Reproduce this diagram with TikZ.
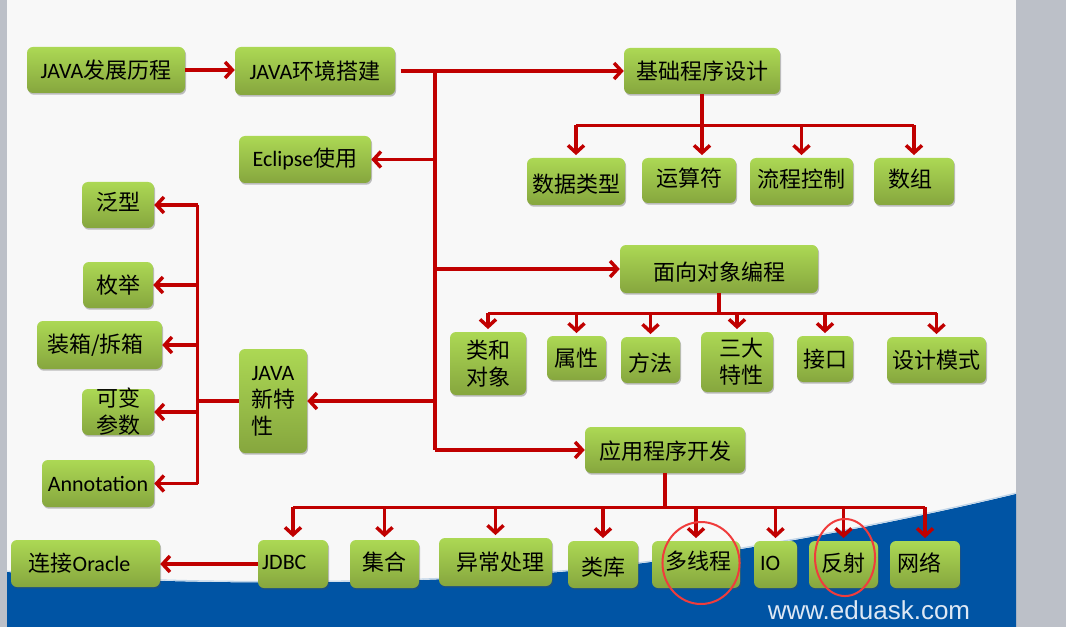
\documentclass[tikz,border=0pt]{standalone}
\usepackage{fontspec}
\setmainfont{Noto Sans CJK SC}
\newfontfamily\cjk{Noto Sans CJK SC}
\newfontfamily\lat{Carlito}
\newfontfamily\urlfont{Liberation Sans}
\usetikzlibrary{arrows.meta,shadows}
\definecolor{lnred}{RGB}{192,0,0}
\definecolor{bxtop}{RGB}{172,216,84}
\definecolor{bxbot}{RGB}{134,166,62}
\definecolor{slide}{RGB}{248,248,248}
\definecolor{strip}{RGB}{188,192,200}
\definecolor{wave}{RGB}{0,84,164}
\definecolor{circ}{RGB}{240,60,60}
\definecolor{urlc}{RGB}{222,232,244}
\tikzset{
  box/.style={rounded corners=4.5pt, top color=bxtop, bottom color=bxbot, draw=none, inner sep=0pt,
    drop shadow={shadow xshift=0.8pt, shadow yshift=-1.3pt, opacity=0.35, fill=black!70}},
  txt/.style={font=\cjk\fontsize{16.5}{20.25}\selectfont, text=black, inner sep=0pt, align=center},
  ln/.style={draw=lnred, line width=2.6pt},
  stub/.style={draw=lnred, line width=3.4pt},
  arr/.style={ln, -{Straight Barb[length=5.5pt,width=12pt]}},
  ring/.style={draw=circ, line width=1.5pt},
}
\newcommand\bx[7][]{%
  \node[box, minimum width={(#5-#3)*0.75pt}, minimum height={(#6-#4)*0.75pt}] (#2) at ({(#3+#5)/2},{(#4+#6)/2}) {};
  \node[txt,#1] (#2t) at (#2) {#7};
}
\begin{document}
\begin{tikzpicture}[x=0.75pt,y=-0.75pt]
\useasboundingbox (0,0) rectangle (1066,627);
\clip (0,0) rectangle (1066,627);
% background
\fill[strip] (0,0) rectangle (1066,627);
\fill[slide] (7,0) rectangle (1016,627);
\fill[wave] (7,572) .. controls (150,586) and (400,586) .. (560,572)
  .. controls (720,558) and (900,522) .. (1016,494) -- (1016,627) -- (7,627) -- cycle;
\draw[white!75!wave, line width=0.8pt] (7,571) .. controls (150,585) and (400,585) .. (560,571)
  .. controls (720,557) and (900,521) .. (1016,493);
\node[font=\urlfont\fontsize{19.5}{20}\selectfont, text=urlc, anchor=base, inner sep=0pt] (url) at (869,619) {www.eduask.com};

% top row
\bx{hist}{27}{47}{185}{93}{{\lat JAVA}发展历程}
\bx{env}{235}{47}{395}{95}{{\lat JAVA}环境搭建}
\bx{basic}{624}{48}{780}{94}{基础程序设计}
\bx{ecl}{239}{136}{371}{183}{{\lat Eclipse}使用}

% basic children
\bx[yshift=-2pt]{dtype}{527}{158}{625}{205}{数据类型}
\bx[yshift=2pt]{oper}{642}{158}{736}{203}{运算符}
\bx[yshift=2pt]{flow}{750}{158}{853}{205}{流程控制}
\bx[xshift=-3pt,yshift=2pt]{arry}{874}{158}{954}{205}{数组}

% OOP
\bx[yshift=-2pt]{oop}{620}{245}{818}{293}{面向对象编程}
\bx{clsobj}{450}{332}{526}{395}{类和\\对象}
\bx{attr}{547}{336}{606}{380}{属性}
\bx[yshift=-2pt]{meth}{621}{337}{680}{383}{方法}
\bx[xshift=3pt]{three}{701}{332}{773}{392}{三大\\特性}
\bx{intf}{797}{336}{853}{382}{接口}
\bx{pat}{887}{337}{986}{383}{设计模式}

% new features
\node[box, minimum width={68*0.75pt}, minimum height={104*0.75pt}] (newf) at (273,401) {};
\node[txt, align=left, anchor=west] (newft) at ([xshift=9.5pt]newf.west) {{\lat JAVA}\\新特\\性};
\bx[yshift=2pt]{gen}{82}{182}{154}{228}{泛型}
\bx{enum}{83}{262}{153}{308}{枚举}
\bx[xshift=-3pt]{boxing}{37}{321}{162}{369}{装箱/拆箱}
\bx{vararg}{82}{389}{154}{435}{可变\\参数}
\bx{anno}{42}{460}{154}{507}{\lat Annotation}

% application
\bx[yshift=-1pt]{app}{585}{427}{745}{473}{应用程序开发}
\bx[xshift=-4.5pt]{ora}{11}{540}{160}{587}{连接{\lat Oracle}}
\bx[xshift=-6.5pt,yshift=1.5pt]{jdbc}{258}{540}{328}{588}{\lat JDBC}
\bx[yshift=1.5pt]{coll}{350}{540}{419}{588}{集合}
\bx[xshift=3.5pt]{exc}{439}{538}{552}{586}{异常处理}
\bx[yshift=-2pt]{lib}{568}{541}{638}{588}{类库}
\bx[xshift=2pt,yshift=2.5pt]{thr}{652}{541}{740}{588}{多线程}
\bx[xshift=-4pt,yshift=1pt]{io}{754}{541}{797}{588}{\lat IO}
\bx[yshift=1pt]{refl}{809}{541}{878}{588}{反射}
\bx[xshift=-4pt,yshift=1pt]{net}{890}{541}{960}{588}{网络}

% connectors: main
\draw[arr] (hist.east) -- (hist.east -| env.west);
\coordinate (tr) at (435,71);
\draw[arr] ([xshift=4pt]env.east) -- (basic.west);
\draw[ln] (tr) -- (tr |- app.west);
\draw[arr] (tr |- ecl.east) -- (ecl.east);
\draw[arr] (tr |- oop.west) -- (oop.west);
\draw[arr] (tr |- newf.east) -- (newf.east);
\draw[arr] (tr |- app.west) -- (app.west);

% basic children
\draw[stub] (basic.south) -- ++(0,31) coordinate (bb);
\draw[ln] (bb -| dtype.north) -- (bb -| arry.north);
\draw[arr] (bb -| dtype.north) -- ([yshift=2pt]dtype.north);
\draw[arr] (bb) -- ([yshift=2pt]bb |- oper.north);
\draw[arr] (bb -| flow.north) -- ([yshift=2pt]flow.north);
\draw[arr] (bb -| arry.north) -- ([yshift=2pt]arry.north);

% OOP children
\draw[stub] (oop.south) -- ++(0,20) coordinate (ob);
\draw[ln] (ob -| clsobj.north) -- (ob -| pat.north);
\foreach \n in {clsobj,attr,meth,three,intf,pat}
  \draw[arr] (ob -| \n.north) -- ([yshift=2pt]\n.north);

% new features children
\draw[stub] (newf.west) -- ++(-41,0) coordinate (nb);
\draw[ln] (nb |- gen.east) -- (nb |- anno.east);
\foreach \n in {gen,enum,boxing,vararg,anno}
  \draw[arr] (nb |- \n.east) -- (\n.east);

% application children
\draw[stub] (app.south) -- ++(0,34) coordinate (ab);
\draw[ln] (ab -| jdbc.north) -- (ab -| net.north);
\foreach \n in {jdbc,coll,exc,lib,thr,io,refl,net}
  \draw[arr] (ab -| \n.north) -- ([yshift=2pt]\n.north);
\draw[arr] (jdbc.west) -- (jdbc.west -| ora.east);

% highlight rings
\draw[ring] (701,563) ellipse [x radius=28.9pt, y radius=30.75pt];
\draw[ring] (845,557.5) ellipse [x radius=22.5pt, y radius=28.9pt];
\end{tikzpicture}
\end{document}
